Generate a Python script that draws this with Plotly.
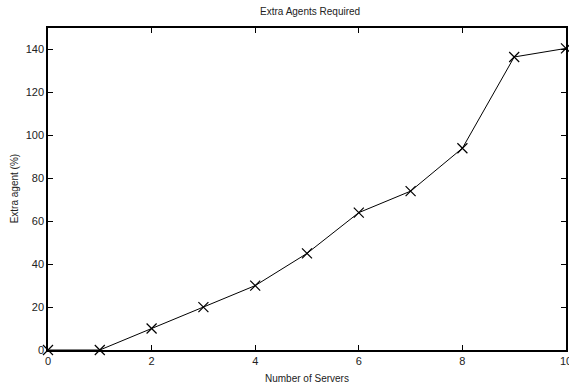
import plotly.graph_objects as go

servers = [0, 1, 2, 3, 4, 5, 6, 7, 8, 9, 10]
extra_agent = [0, 0, 10, 20, 30, 45, 64, 74, 94, 136.5, 140.5]
x_ticks = [0, 2, 4, 6, 8, 10]
y_ticks = [0, 20, 40, 60, 80, 100, 120, 140]

FAM = "Liberation Sans, Arial, sans-serif"

fig = go.Figure(go.Scatter(
    x=servers, y=extra_agent, mode="lines+markers",
    line=dict(color="black", width=1),
    marker=dict(symbol="x-thin", size=10, line=dict(color="black", width=1.2)),
    cliponaxis=False,
))
# invisible trace to activate the mirrored (top/right) tick axes
fig.add_trace(go.Scatter(x=[], y=[], xaxis="x2", yaxis="y2", showlegend=False, hoverinfo="skip"))

font = dict(family=FAM, size=11, color="#222")
axis_common = dict(showgrid=False, zeroline=False, showline=True, linecolor="black",
                   linewidth=1.5, ticks="inside", ticklen=5,
                   tickcolor="black", tickfont=font, automargin=False,
                   ticklabeloverflow="allow")

fig.update_layout(
    width=569, height=385,
    margin=dict(l=48, r=3, t=28, b=35, autoexpand=False),
    plot_bgcolor="white", paper_bgcolor="white",
    showlegend=False,
    title=dict(text="Extra Agents Required", x=0.545, xanchor="center", y=0.978, yanchor="top",
               font=dict(family=FAM, size=10, color="#222")),
    xaxis=dict(range=[0, 10], tickvals=x_ticks, **axis_common),
    yaxis=dict(range=[0, 150], tickvals=y_ticks, **axis_common),
    xaxis2=dict(range=[0, 10], tickvals=x_ticks, overlaying="x", side="top", anchor="y",
                showticklabels=False, **axis_common),
    yaxis2=dict(range=[0, 150], tickvals=y_ticks, overlaying="y", side="right", anchor="x",
                showticklabels=False, **axis_common),
    annotations=[
        dict(text="Number of Servers", xref="paper", yref="paper", x=0.5, y=-0.065,
             xanchor="center", yanchor="top", showarrow=False,
             font=dict(family=FAM, size=10, color="#222")),
        dict(text="Extra agent (%)", xref="paper", yref="paper", x=-0.065, y=0.5,
             xanchor="center", yanchor="middle", textangle=-90, showarrow=False,
             font=dict(family=FAM, size=10, color="#222")),
    ],
)

fig.write_html("out.html", config={"displayModeBar": False},
               post_script="document.body.style.margin='0';document.body.style.overflow='hidden';")
